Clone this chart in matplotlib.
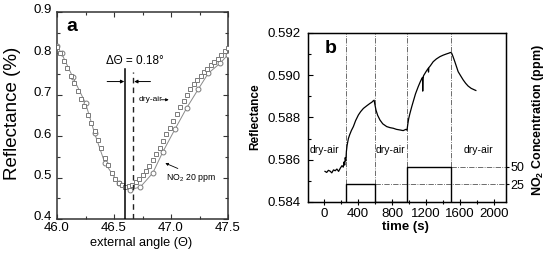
import matplotlib
matplotlib.use("Agg")
import matplotlib.pyplot as plt
import matplotlib.transforms as mtransforms
from matplotlib.ticker import MultipleLocator, FormatStrFormatter

plt.rcParams['font.family'] = ['Liberation Sans', 'DejaVu Sans']
plt.rcParams['mathtext.fontset'] = 'custom'
plt.rcParams['mathtext.rm'] = 'Liberation Sans'
plt.rcParams['mathtext.bf'] = 'Liberation Sans:bold'

# ---------------- Panel a data ----------------
angle_dry = [46.00, 46.03, 46.06, 46.09, 46.12, 46.15, 46.18, 46.21, 46.24, 46.27,
             46.30, 46.33, 46.36, 46.39, 46.42, 46.45, 46.48, 46.51, 46.54, 46.57,
             46.60, 46.63, 46.66, 46.69, 46.72, 46.75, 46.78, 46.81, 46.84, 46.87,
             46.90, 46.93, 46.96, 46.99, 47.02, 47.05, 47.08, 47.11, 47.14, 47.17,
             47.20, 47.23, 47.26, 47.29, 47.32, 47.35, 47.38, 47.41, 47.44, 47.47, 47.50]
refl_dry = [0.816, 0.800, 0.782, 0.765, 0.745, 0.728, 0.710, 0.690, 0.672, 0.652,
            0.632, 0.612, 0.592, 0.571, 0.548, 0.530, 0.511, 0.496, 0.487, 0.481,
            0.478, 0.479, 0.483, 0.489, 0.497, 0.506, 0.517, 0.529, 0.542, 0.556,
            0.571, 0.589, 0.605, 0.620, 0.637, 0.654, 0.671, 0.686, 0.700, 0.713,
            0.725, 0.735, 0.745, 0.754, 0.763, 0.771, 0.779, 0.787, 0.796, 0.805, 0.814]

angle_no2 = [46.00, 46.04, 46.14, 46.25, 46.33, 46.42, 46.54, 46.64, 46.73, 46.84,
             46.93, 47.035, 47.137, 47.24, 47.327, 47.43, 47.50]
refl_no2 = [0.818, 0.800, 0.742, 0.680, 0.607, 0.535, 0.487, 0.471, 0.477, 0.511,
            0.563, 0.617, 0.668, 0.714, 0.752, 0.776, 0.797]

res_dry = 46.60
res_no2 = 46.667

# ---------------- Panel b data ----------------
time_s = [10, 30, 50, 70, 90, 110, 130, 150, 170, 190, 210, 225, 235, 242, 248, 255, 262,
          270, 285, 300, 320, 344, 370, 403, 430, 462, 500, 540, 560, 575, 588, 598, 610,
          630, 657, 690, 736, 775, 814, 850, 892, 930, 963, 975, 985, 995, 1010, 1030,
          1048, 1075, 1107, 1130, 1150, 1158, 1160, 1163, 1170, 1200, 1225, 1228, 1232,
          1250, 1283, 1320, 1362, 1400, 1440, 1470, 1487, 1500, 1515, 1538, 1577, 1610,
          1636, 1665, 1694, 1730, 1773, 1785]
refl_t = [0.58545, 0.58540, 0.58550, 0.58546, 0.58538, 0.58552, 0.58548, 0.58556, 0.58545,
          0.58560, 0.58572, 0.58565, 0.58590, 0.58575, 0.58610, 0.58595, 0.58640,
          0.58668, 0.58700, 0.58718, 0.58738, 0.58757, 0.58785, 0.58812, 0.58828, 0.58843,
          0.58855, 0.58867, 0.58872, 0.58878, 0.58882, 0.58860, 0.58835,
          0.58810, 0.58788, 0.58770, 0.58757, 0.58752, 0.58749, 0.58744, 0.58741, 0.58738,
          0.58744, 0.58740, 0.58770, 0.58795, 0.58820, 0.58850,
          0.58875, 0.58912, 0.58946, 0.58968, 0.58985, 0.58990, 0.58925, 0.58985, 0.58998,
          0.59018, 0.59033, 0.59015, 0.59036,
          0.59045, 0.59064, 0.59077, 0.59088, 0.59095, 0.59101, 0.59105, 0.59108, 0.59105,
          0.59090, 0.59064, 0.59017, 0.58995,
          0.58978, 0.58962, 0.58949, 0.58938, 0.58930, 0.58928]

switch_times = [260, 600, 970, 1495]
conc_time = [260, 260, 600, 600, 970, 970, 1495, 1495]
conc_ppm = [0, 25, 25, 0, 0, 50, 50, 0]
conc_levels = [25, 50]
dry_label_times = [0, 775, 1820]

# ---------------- Figure ----------------
W, H = 550, 256
fig = plt.figure(figsize=(W / 100, H / 100), dpi=100)

def box(l, t, r, b):
    return [l / W, 1 - b / H, (r - l) / W, (b - t) / H]

# Panel a
axa = fig.add_axes(box(57, 12, 228, 219))
mk = '#7a7a7a'
axa.plot(angle_no2, refl_no2, '-', color='#8a8a8a', lw=0.7, zorder=2)
axa.plot(angle_no2, refl_no2, 'o', ms=3.5, mfc='white', mec=mk, mew=0.7, zorder=3)
axa.plot(angle_dry, refl_dry, 's', ms=2.8, mfc='white', mec=mk, mew=0.7, zorder=4)
axa.plot([res_dry, res_dry], [0.4, 0.763], color='black', lw=1.1, zorder=5)
axa.plot([res_no2, res_no2], [0.4, 0.755], color='#222222', lw=1.0, ls=(0, (4, 3)), zorder=5)
axa.set_xlim(46.0, 47.5)
axa.set_ylim(0.4, 0.9)
axa.xaxis.set_major_locator(MultipleLocator(0.5))
axa.xaxis.set_minor_locator(MultipleLocator(0.25))
axa.yaxis.set_major_locator(MultipleLocator(0.1))
axa.yaxis.set_minor_locator(MultipleLocator(0.05))
axa.xaxis.set_major_formatter(FormatStrFormatter('%.1f'))
axa.yaxis.set_major_formatter(FormatStrFormatter('%.1f'))
axa.tick_params(which='both', direction='in', top=True, right=True, labelsize=9.5,
                width=0.8, color='#333333')
axa.tick_params(which='major', length=3.5)
axa.tick_params(which='minor', length=2.5)
axa.tick_params(axis='x', pad=2.5)
axa.tick_params(axis='y', pad=4)
for s in axa.spines.values():
    s.set_linewidth(1.1)
    s.set_color('#333333')

# raise the y tick labels a little, as in the reference
up = mtransforms.ScaledTranslation(0, 3 / 100, fig.dpi_scale_trans)
for lab in axa.get_yticklabels():
    lab.set_transform(lab.get_transform() + up)

axa.text(46.08, 0.865, 'a', fontsize=14, fontweight='bold', ha='left', va='center')
axa.text(46.68, 0.781, 'ΔΘ = 0.18°', fontsize=8.5, ha='center', va='center')
axa.annotate('', xy=(res_dry - 0.01, 0.732), xytext=(46.44, 0.732),
             arrowprops=dict(arrowstyle='-|>', color='black', lw=0.7,
                             mutation_scale=5, shrinkA=0, shrinkB=0))
axa.annotate('', xy=(res_no2 + 0.01, 0.732), xytext=(46.82, 0.732),
             arrowprops=dict(arrowstyle='-|>', color='black', lw=0.7,
                             mutation_scale=5, shrinkA=0, shrinkB=0))
axa.text(46.715, 0.688, 'dry-air', fontsize=6, ha='left', va='center')
axa.annotate('', xy=(46.98, 0.688), xytext=(46.915, 0.688),
             arrowprops=dict(arrowstyle='-|>', color='black', lw=0.6,
                             mutation_scale=4, shrinkA=0, shrinkB=0))
axa.annotate('', xy=(46.95, 0.535), xytext=(47.06, 0.522),
             arrowprops=dict(arrowstyle='-|>', color='black', lw=0.6,
                             mutation_scale=4, shrinkA=0, shrinkB=0))
axa.text(46.96, 0.50, 'NO$_2$ 20 ppm', fontsize=6.3, ha='left', va='center')

fig.text(13 / W, 1 - 113 / H, 'Reflectance (%)', rotation=90, fontsize=13.5,
         ha='center', va='center')
fig.text(141 / W, 1 - 243 / H, 'external angle (Θ)', fontsize=9.2,
         ha='center', va='center')

# Panel b
axb = fig.add_axes(box(308, 33, 506, 202))
axb.plot(time_s, refl_t, color='black', lw=0.9, zorder=4)
axb.set_xlim(-190, 2140)
axb.set_ylim(0.584, 0.592)
axb.xaxis.set_major_locator(MultipleLocator(400))
axb.xaxis.set_minor_locator(MultipleLocator(200))
axb.yaxis.set_major_locator(MultipleLocator(0.002))
axb.yaxis.set_minor_locator(MultipleLocator(0.001))
axb.yaxis.set_major_formatter(FormatStrFormatter('%.3f'))
axb.tick_params(axis='y', which='both', direction='in', labelsize=9.5, pad=5, width=0.8)
axb.tick_params(axis='y', which='major', length=3.5)
axb.tick_params(axis='y', which='minor', length=2.5)
axb.tick_params(axis='x', which='both', direction='inout', labelsize=9.5, pad=2, width=0.8)
axb.tick_params(axis='x', which='major', length=5)
axb.tick_params(axis='x', which='minor', length=3)
for s in axb.spines.values():
    s.set_linewidth(1.0)

for t in switch_times:
    axb.axvline(t, color='#555555', lw=0.6, ls='-.', zorder=2)

axb.text(0.085, 0.91, 'b', transform=axb.transAxes, fontsize=14, fontweight='bold',
         ha='left', va='center')
for t in dry_label_times:
    axb.text(t, 0.58646, 'dry-air', fontsize=7.5, ha='center', va='center', zorder=5)

axc = axb.twinx()
axc.set_ylim(0, 240)
axc.plot(conc_time, conc_ppm, color='black', lw=1.0, zorder=4)
axc.plot([switch_times[1], 2140], [conc_levels[0], conc_levels[0]], color='#555555',
         lw=0.6, ls='-.', clip_on=False)
axc.plot([switch_times[3], 2140], [conc_levels[1], conc_levels[1]], color='#555555',
         lw=0.6, ls='-.', clip_on=False)
axc.set_yticks(conc_levels)
axc.tick_params(axis='y', direction='out', length=2, width=0.8, pad=1, labelsize=9)
axc.set_xlim(-190, 2140)

fig.text(255 / W, 1 - 117 / H, 'Reflectance', rotation=90, fontsize=8.5,
         fontweight='bold', ha='center', va='center')
fig.text(405 / W, 1 - 227 / H, 'time (s)', fontsize=9.5, fontweight='bold',
         ha='center', va='center')
fig.text(538 / W, 1 - 120 / H, r'NO$_\mathbf{2}$ Concentration (ppm)', rotation=90,
         fontsize=9, fontweight='bold', ha='center', va='center')

fig.savefig('out.png', dpi=100)
